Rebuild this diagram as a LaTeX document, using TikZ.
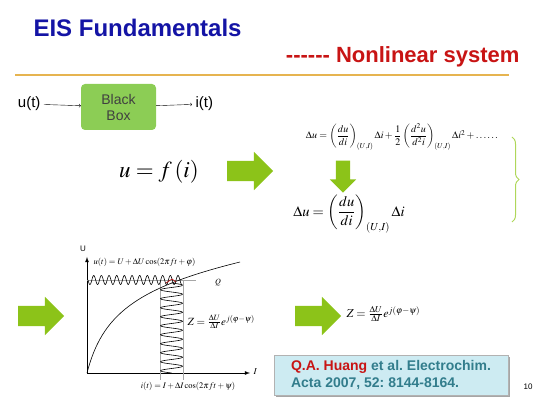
\documentclass[tikz,border=0pt]{standalone}
\usepackage{amsmath}
\usepackage{mathptmx}
\usepackage[no-math]{fontspec}
\setmainfont{Liberation Sans}
\usetikzlibrary{positioning,shapes.arrows,decorations.pathreplacing,shadows}
\definecolor{titleblue}{RGB}{20,20,165}
\definecolor{subred}{RGB}{200,20,20}
\definecolor{rulecol}{RGB}{230,180,80}
\definecolor{boxgreen}{RGB}{140,205,85}
\definecolor{arrowgreen}{RGB}{140,195,25}
\definecolor{bracegreen}{RGB}{175,215,90}
\definecolor{citecyan}{RGB}{205,235,242}
\definecolor{citeteal}{RGB}{50,125,140}

\begin{document}
\begin{tikzpicture}[x=1pt,y=-1pt,
  bbox/.style={rounded corners=4pt,fill=boxgreen,minimum width=75pt,minimum height=46pt,
    align=center,text=black!75,font=\fontsize{14}{16}\selectfont},
  bigarrow/.style={single arrow,fill=arrowgreen,inner sep=10pt,minimum height=46pt,
    single arrow head extend=9pt},
  guide/.style={gray!70,line width=0.4pt},
  axis/.style={-latex,line width=0.8pt}]
\useasboundingbox (0,0) rectangle (542,406);
% header
\node[anchor=west,text=titleblue,font=\bfseries\fontsize{24}{28}\selectfont] (title) at (30,28) {EIS Fundamentals};
\node[anchor=east,text=subred,font=\bfseries\fontsize{22}{25}\selectfont] (sub) at (523,57) {-{}-{}-{}-{}-{}- Nonlinear system};
\draw[rulecol,line width=1.5pt] (15,75) -- (509,75);

% black box
\node[bbox] (bb) at (118.5,107) {Black\\Box};
\node[anchor=east,font=\fontsize{15}{17}\selectfont] (ut) at (44,104) {u(t)};
\node[anchor=west,font=\fontsize{15}{17}\selectfont] (it) at (192,104) {i(t)};
\draw[->] (ut) -- (bb);
\draw[->] (bb) -- (it);

\node (ufi) at (159,172) {\fontsize{23}{27}\selectfont$u=f\,(i)$};
\node[bigarrow] (a1) at (245,171) {};

% expansion
\node (taylor) at (402,137) {\fontsize{10}{12}\selectfont
  $\Delta u=\left(\dfrac{du}{di}\right)_{(U,I)}\Delta i+\dfrac{1}{2}\left(\dfrac{d^2u}{d^2i}\right)_{(U,I)}\Delta i^2+\ldots\ldots$};
\node[bigarrow,shape border rotate=270,minimum height=32pt,inner sep=7pt,single arrow head extend=6pt] (a2) at (343,173) {};
\node (lin) at (349,214) {\fontsize{14.5}{17}\selectfont
  $\Delta u=\left(\dfrac{du}{di}\right)_{(U,I)}\Delta i$};
\coordinate (bt) at (512,137);
\coordinate (bb2) at (512,222);
\draw[bracegreen,line width=1pt,decorate,decoration={brace,amplitude=7pt}] (bt) -- (bb2);

% graph
\node[bigarrow] (a3) at (36,316) {};
\coordinate (O) at (87,373);
\coordinate (ytop) at (87,257);
\coordinate (xend) at (250,373);
\draw[axis] (O) -- (ytop);
\draw[axis] (O) -- (xend);
\node[font=\fontsize{8}{9}\selectfont] (ulab) at (83,249) {U};
\node[anchor=west,font=\fontsize{9}{10}\selectfont] (ilab) at (250,372) {$I$};
\node[anchor=west,font=\fontsize{8.5}{10}\selectfont] (uform) at (90,262)
  {$u(t)=U+\Delta U\cos(2\pi f t+\varphi)$};
\draw[guide] (87,280) -- (196,280);
\draw[guide] (160,280) -- (160,380);
\draw[guide] (183,280) -- (183,380);
\draw[line width=0.6pt] (O) .. controls (102,315) and (135,288) .. (240,262);
\draw[line width=0.6pt] plot[domain=88:182,samples=300] (\x,{280+4.5*sin((\x-88)*47)});
\draw[line width=0.6pt] plot[domain=283:373,samples=300] ({171.5+11*sin((\x-283)*40)},\x);
\draw[red!70!black,line width=0.6pt] (166,283) -- (172,279) -- (176,282);
\node[font=\fontsize{8}{9}\selectfont] (q) at (218,283) {$Q$};
\node[anchor=west,font=\fontsize{11}{13}\selectfont] (zg) at (184,322)
  {$Z=\frac{\Delta U}{\Delta I}e^{j(\varphi-\psi)}$};
\node[font=\fontsize{8.5}{10}\selectfont] (iform) at (188,386)
  {$i(t)=I+\Delta I\cos(2\pi f t+\psi)$};

% result
\node[bigarrow] (a4) at (313,316) {};
\node[anchor=west,font=\fontsize{12}{14}\selectfont] (zres) at (343,314)
  {$Z=\frac{\Delta U}{\Delta I}e^{j(\varphi-\psi)}$};

% citation
\node[fill=citecyan,draw=gray!60,drop shadow={shadow xshift=2pt,shadow yshift=-2pt,fill=gray!70,opacity=1},
  minimum width=234pt,minimum height=40pt,align=left,text=citeteal,
  font=\bfseries\frenchspacing\fontsize{14}{17}\selectfont,inner xsep=4pt] (cite) at (391,375)
  {\textcolor{subred}{Q.A. Huang} et al. Electrochim.\\Acta 2007, 52: 8144-8164.};
\node[font=\fontsize{8}{9}\selectfont] (pg) at (528,387) {10};
\end{tikzpicture}
\end{document}
